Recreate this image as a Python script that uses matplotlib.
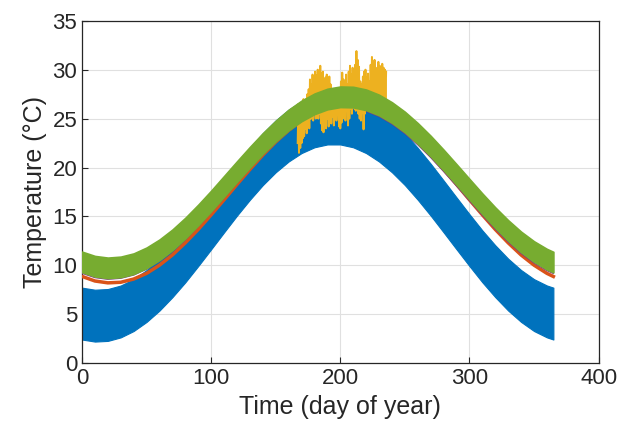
import numpy as np
import matplotlib.pyplot as plt

# sample days for the smooth curves / bands
days = list(range(0, 361, 10)) + [365]

# blue band (daily range), centre and half width
blue_mid = [5.08, 4.87, 4.94, 5.30, 5.95, 6.88, 8.04, 9.41, 10.93, 12.59,
            14.30, 16.03, 17.74, 19.36, 20.86, 22.17, 23.27, 24.13, 24.72,
            25.01, 25.01, 24.72, 24.13, 23.27, 22.17, 20.86, 19.36, 17.74,
            16.03, 14.30, 12.59, 10.93, 9.41, 8.04, 6.88, 5.95, 5.30, 5.08]
blue_half = 2.65

# orange line
orange = [8.88, 8.41, 8.22, 8.28, 8.61, 9.19, 10.03, 11.07, 12.31, 13.68,
          15.17, 16.71, 18.28, 19.81, 21.28, 22.62, 23.80, 24.80, 25.57,
          26.10, 26.37, 26.37, 26.10, 25.57, 24.80, 23.80, 22.62, 21.28,
          19.81, 18.28, 16.71, 15.17, 13.68, 12.31, 11.07, 10.03, 9.19, 8.87]

# green band, centre and half width
green_mid = [10.36, 9.92, 9.75, 9.85, 10.18, 10.78, 11.60, 12.62, 13.82,
             15.16, 16.59, 18.09, 19.59, 21.06, 22.46, 23.73, 24.86, 25.79,
             26.51, 27.00, 27.23, 27.20, 26.92, 26.39, 25.62, 24.65, 23.49,
             22.19, 20.77, 19.29, 17.79, 16.30, 14.88, 13.57, 12.40, 11.42,
             10.64, 10.34]
green_half = 1.05

# measured series (yellow), daily highs and lows
meas_days = list(range(167, 236))
meas_high = [26.5, 26.0, 25.5, 26.5, 27.0, 26.5, 27.0, 27.5, 28.0, 29.0,
             28.5, 29.5, 29.2, 29.8, 29.4, 30.0, 29.5, 30.4, 29.6, 29.8,
             28.8, 29.2, 29.5, 28.8, 29.3, 28.5, 28.0, 27.5, 27.0, 27.2,
             26.8, 27.5, 28.0, 28.8, 29.7, 29.0, 28.7, 29.5, 28.5, 29.8,
             30.4, 29.5, 30.2, 29.0, 30.5, 31.9, 31.0, 30.3, 28.8, 28.5,
             29.3, 29.8, 30.0, 29.2, 29.6, 28.8, 30.5, 31.3, 30.8, 31.0,
             30.2, 30.0, 30.8, 30.4, 30.1, 30.6, 30.2, 30.0, 29.8]
meas_low = [22.5, 21.5, 22.0, 22.5, 23.0, 23.2, 24.0, 23.5, 24.5, 24.0,
            25.0, 25.0, 24.8, 25.5, 25.0, 25.8, 25.0, 25.5, 24.5, 23.8,
            23.6, 24.5, 24.0, 25.0, 24.2, 25.0, 24.5, 25.2, 24.3, 25.0,
            24.8, 25.5, 24.2, 24.0, 24.6, 25.5, 25.0, 24.8, 25.8, 24.3,
            25.0, 26.0, 25.5, 26.2, 26.0, 25.8, 26.5, 25.5, 25.0, 24.8,
            25.6, 23.9, 25.5, 26.0, 26.5, 26.3, 26.8, 26.5, 27.0, 26.8,
            27.2, 26.5, 27.0, 26.8, 26.5, 27.0, 26.7, 26.8, 27.0]

c_blue = (0.0, 0.447, 0.741)
c_orange = (0.85, 0.325, 0.098)
c_yellow = (0.929, 0.694, 0.125)
c_purple = (0.494, 0.184, 0.556)
c_green = (0.466, 0.674, 0.188)
c_axis = (0.15, 0.15, 0.15)

plt.rcParams['font.family'] = ['Liberation Sans', 'DejaVu Sans']

fig = plt.figure(figsize=(6.19, 4.32), dpi=100)
ax = fig.add_axes([0.1325, 0.159, 0.8345, 0.793])

d = np.array(days)
bm = np.array(blue_mid)
gm = np.array(green_mid)

ax.fill_between(d, bm - blue_half, bm + blue_half, color=c_blue, lw=0.8,
                edgecolor=c_blue, zorder=2)
ax.plot(d, orange, color=c_orange, lw=2.5, zorder=3)
ax.plot(d, gm - green_half - 0.12, color=c_purple, lw=0.8, zorder=3)

# yellow: alternate lows and highs through each day
t = []
v = []
for day, lo, hi in zip(meas_days, meas_low, meas_high):
    t += [day, day + 0.5]
    v += [lo, hi]
ax.plot(t, v, color=c_yellow, lw=1.4, zorder=4)

# green band, edge stroke thickens it on the slopes like the dense original
ax.fill_between(d, gm - green_half, gm + green_half, color=c_green, lw=1.2,
                edgecolor=c_green, zorder=5)

ax.set_xlim(0, 400)
ax.set_ylim(0, 35)
ax.set_xticks([0, 100, 200, 300, 400])
ax.set_yticks(range(0, 36, 5))
ax.grid(True, color=(0.88, 0.88, 0.88), lw=0.8, zorder=0)
ax.set_axisbelow(True)
for s in ax.spines.values():
    s.set_color(c_axis)
    s.set_linewidth(0.9)
ax.tick_params(direction='in', length=4, labelsize=16, colors=c_axis,
               top=False, right=False)
ax.set_xlabel('Time (day of year)', fontsize=18, color=c_axis)
ax.set_ylabel('Temperature (°C)', fontsize=18, color=c_axis)

fig.savefig('out.png', dpi=100)
